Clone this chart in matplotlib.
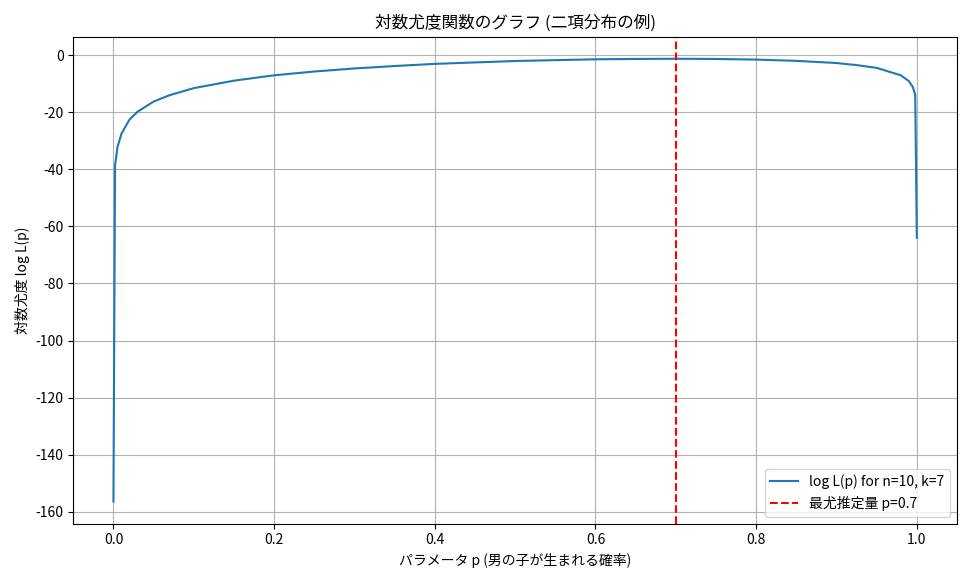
import matplotlib
matplotlib.use("Agg")
import matplotlib.pyplot as plt

plt.rcParams['font.family'] = ['Noto Sans CJK JP', 'DejaVu Sans']
plt.rcParams['axes.unicode_minus'] = False

# values
p_values = [0.0, 0.002, 0.005, 0.01, 0.02, 0.03, 0.05, 0.07, 0.1, 0.15, 0.2, 0.25,
            0.3, 0.35, 0.4, 0.45, 0.5, 0.55, 0.6, 0.65, 0.7, 0.75, 0.8, 0.85,
            0.9, 0.925, 0.95, 0.98, 0.99, 0.995, 0.998, 1.0]
log_l = [-156.4, -38.7, -32.3, -27.5, -22.6, -19.85, -16.3, -14.05, -11.6, -8.98,
         -7.1, -5.78, -4.7, -3.85, -3.1, -2.59, -2.1, -1.79, -1.5, -1.37, -1.3,
         -1.38, -1.6, -2.04, -2.8, -3.53, -4.5, -7.1, -9.1, -11.2, -13.9, -64.0]
p_hat = 0.7

fig, ax = plt.subplots(figsize=(9.72, 5.83), dpi=100)
ax.plot(p_values, log_l, color='#1f77b4', label='log L(p) for n=10, k=7')
ax.axvline(p_hat, color='red', linestyle='--', label=f'最尤推定量 p={p_hat}')
ax.set_title('対数尤度関数のグラフ (二項分布の例)')
ax.set_xlabel('パラメータ p (男の子が生まれる確率)')
ax.set_ylabel('対数尤度 log L(p)')
ax.legend(loc='lower right')
ax.grid(True)
fig.tight_layout()
fig.savefig('out.png', dpi=100)
